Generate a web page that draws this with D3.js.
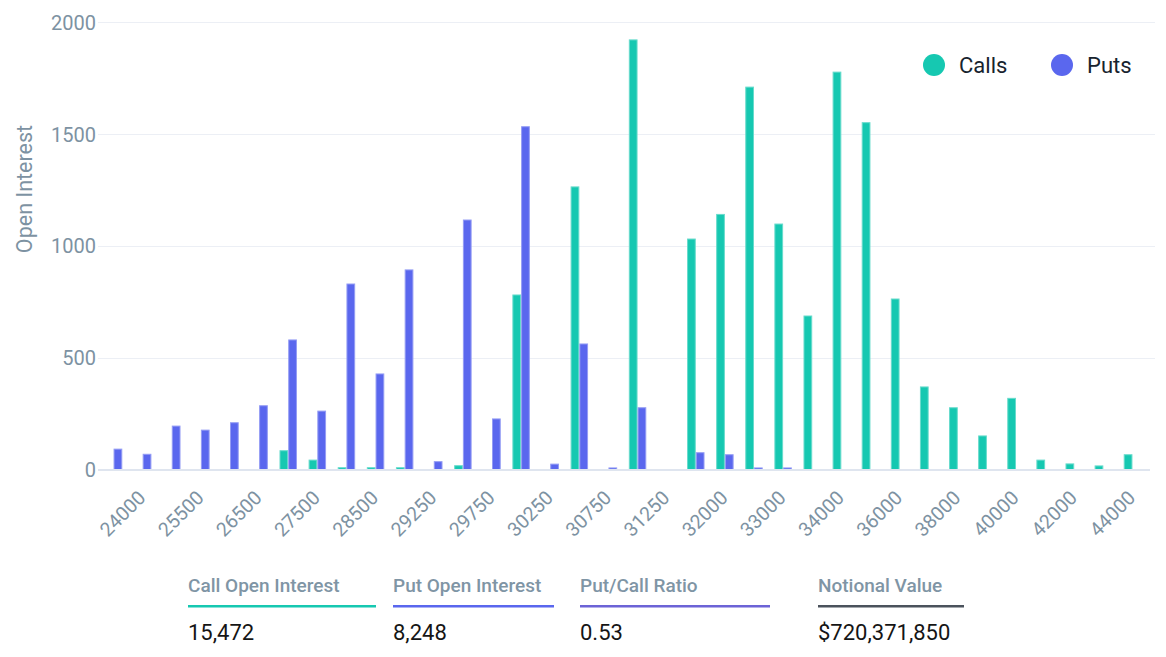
<!DOCTYPE html>
<html>
<head>
<meta charset="utf-8">
<script src="https://cdn.jsdelivr.net/npm/d3@7"></script>
<style>
  html, body { margin: 0; padding: 0; background: #ffffff; }
  svg { display: block; font-family: Roboto, "Noto Sans", sans-serif; }
</style>
</head>
<body>
<svg id="chart" width="1166" height="657"></svg>
<script>
// ---- data ----
const strikes = [23000, 24000, 25000, 25500, 26000, 26500, 27000, 27500, 28000, 28500,
  29000, 29250, 29500, 29750, 30000, 30250, 30500, 30750, 31000, 31250,
  31500, 32000, 32500, 33000, 33500, 34000, 35000, 36000, 37000, 38000,
  39000, 40000, 41000, 42000, 43000, 44000];
const calls = [0, 0, 0, 0, 0, 0, 84, 42, 8, 8,
  8, 0, 17, 0, 780, 0, 1263, 0, 1920, 0,
  1030, 1140, 1709, 1097, 686, 1776, 1550, 762, 369, 276,
  150, 318, 42, 25, 16, 66];
const puts = [91, 68, 194, 176, 209, 285, 579, 261, 829, 427,
  892, 35, 1115, 226, 1532, 24, 561, 7, 276, 0,
  75, 66, 7, 7, 0, 0, 0, 0, 0, 0,
  0, 0, 0, 0, 0, 0];
const tickLabels = [24000, 25500, 26500, 27500, 28500, 29250, 29750, 30250, 30750, 31250,
  32000, 33000, 34000, 36000, 38000, 40000, 42000, 44000];
const yTicks = [0, 500, 1000, 1500, 2000];
const seriesNames = ["Calls", "Puts"];
const seriesColors = ["#16c8b1", "#5a67ee"];
const statLabels = ["Call Open Interest", "Put Open Interest", "Put/Call Ratio", "Notional Value"];
const statValues = ["15,472", "8,248", "0.53", "$720,371,850"];
const statColors = ["#16c8b1", "#5a67ee", "#6c63d6", "#4b525c"];

// ---- layout ----
const svg = d3.select("#chart");
const axisColor = "#7d92a2";

const x = d3.scaleBand().domain(strikes).range([99, 1147]).paddingInner(0.4).paddingOuter(0.2);
const xs = d3.scaleBand().domain(seriesNames).range([0, x.bandwidth()]);
const y = d3.scaleLinear().domain([0, 2000]).range([469.5, 22]);

// gridlines
svg.append("g").selectAll("line").data(yTicks.filter(d => d > 0)).join("line")
  .attr("x1", 98).attr("x2", 1155)
  .attr("y1", d => Math.round(y(d)) + 0.5).attr("y2", d => Math.round(y(d)) + 0.5)
  .attr("stroke", "#eceff5").attr("stroke-width", 1);

// y axis labels
const yAxis = d3.axisLeft(y).tickValues(yTicks).tickFormat(d3.format("d")).tickSize(0).tickPadding(0);
const gy = svg.append("g").attr("transform", "translate(96,0)").call(yAxis);
gy.select(".domain").remove();
gy.selectAll("text").attr("fill", axisColor).attr("font-size", 20)
  .attr("font-family", "Roboto").attr("dy", "0.36em");

// y title
svg.append("text")
  .attr("transform", "translate(31.5,189) rotate(-90)")
  .attr("text-anchor", "middle")
  .attr("fill", axisColor).attr("font-size", 21.5)
  .text("Open Interest");

// bars
const rows = strikes.map((s, i) => ({ strike: s, vals: [calls[i], puts[i]] }));
const groups = svg.append("g").selectAll("g").data(rows).join("g")
  .attr("transform", d => `translate(${x(d.strike)},0)`);
groups.selectAll("rect").data(d => d.vals.map((v, k) => ({ v, k })).filter(e => e.v > 0)).join("rect")
  .attr("x", e => xs(seriesNames[e.k]) + 0.5)
  .attr("width", xs.bandwidth() - 1)
  .attr("y", e => y(e.v))
  .attr("height", e => y(0) - y(e.v))
  .attr("fill", e => seriesColors[e.k])
  .attr("stroke", e => d3.interpolateRgb(seriesColors[e.k], "#ffffff")(0.35))
  .attr("stroke-width", 1);

// x axis line
svg.append("line")
  .attr("x1", 98).attr("x2", 1150)
  .attr("y1", 470).attr("y2", 470)
  .attr("stroke", "#dfe5ef").attr("stroke-width", 2);

// x tick labels
const xAxis = d3.axisBottom(x).tickValues(tickLabels).tickSize(0).tickPadding(0);
const gx = svg.append("g").call(xAxis);
gx.select(".domain").remove();
gx.selectAll(".tick").attr("transform", d => `translate(${x(d) + x.bandwidth() / 2 + 4},499)`);
gx.selectAll("text")
  .attr("y", 0).attr("dy", 0)
  .attr("transform", "rotate(-45)")
  .attr("text-anchor", "end")
  .attr("fill", axisColor).attr("font-size", 19.5).attr("font-family", "Roboto");

// legend
const legendX = [934, 1062];
const lg = svg.append("g").selectAll("g").data(seriesNames).join("g")
  .attr("transform", (d, i) => `translate(${legendX[i]},65)`);
lg.append("circle").attr("r", 11).attr("fill", (d, i) => seriesColors[i]);
lg.append("text").attr("x", 25).attr("dy", "0.36em")
  .attr("font-size", 22).attr("fill", "#17232e").text(d => d);

// bottom stats
const statX = [188, 393, 580, 818];
const statW = [188, 161, 190, 146];
const st = svg.append("g").selectAll("g").data(statLabels).join("g")
  .attr("transform", (d, i) => `translate(${statX[i]},0)`);
st.append("text").attr("y", 592).attr("font-size", 19).attr("font-weight", 500)
  .attr("fill", "#7f95a5").text(d => d);
st.append("rect").attr("y", 605).attr("height", 2.5)
  .attr("width", (d, i) => statW[i]).attr("fill", (d, i) => statColors[i]);
st.append("text").attr("y", 640).attr("font-size", 22)
  .attr("fill", "#151515").text((d, i) => statValues[i]);
</script>
</body>
</html>
